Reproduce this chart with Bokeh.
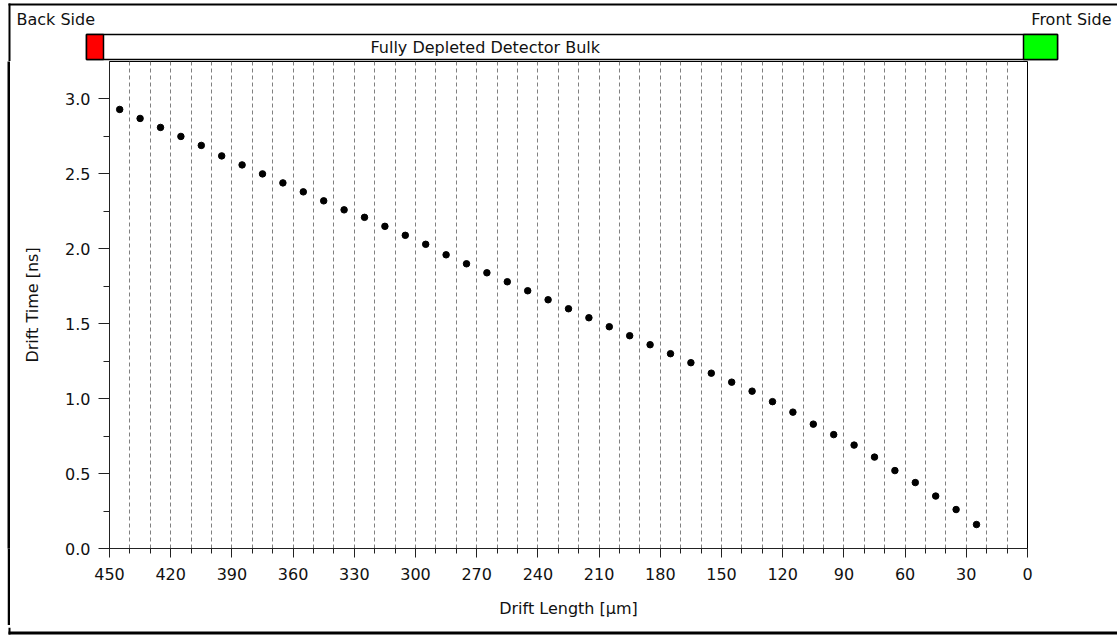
from bokeh.plotting import figure
from bokeh.layouts import column, row
from bokeh.models import Range1d, FixedTicker, ColumnDataSource
from bokeh.core.properties import value
from bokeh.embed import file_html
from bokeh.resources import INLINE

# ---- data ----
drift_length = [445, 435, 425, 415, 405, 395, 385, 375, 365, 355, 345, 335, 325, 315, 305,
                295, 285, 275, 265, 255, 245, 235, 225, 215, 205, 195, 185, 175, 165, 155,
                145, 135, 125, 115, 105, 95, 85, 75, 65, 55, 45, 35, 25]
drift_time = [2.93, 2.87, 2.81, 2.75, 2.69, 2.62, 2.56, 2.50, 2.44, 2.38, 2.32, 2.26, 2.21, 2.15, 2.09,
              2.03, 1.96, 1.90, 1.84, 1.78, 1.72, 1.66, 1.60, 1.54, 1.48, 1.42, 1.36, 1.30, 1.24, 1.17,
              1.11, 1.05, 0.98, 0.91, 0.83, 0.76, 0.69, 0.61, 0.52, 0.44, 0.35, 0.26, 0.16]

x_major_ticks = [450, 420, 390, 360, 330, 300, 270, 240, 210, 180, 150, 120, 90, 60, 30, 0]
x_minor_ticks = [440, 430, 410, 400, 380, 370, 350, 340, 320, 310, 290, 280, 260, 250, 230, 220,
                 200, 190, 170, 160, 140, 130, 110, 100, 80, 70, 50, 40, 20, 10]
x_grid_ticks = [440, 430, 420, 410, 400, 390, 380, 370, 360, 350, 340, 330, 320, 310, 300, 290,
                280, 270, 260, 250, 240, 230, 220, 210, 200, 190, 180, 170, 160, 150, 140, 130,
                120, 110, 100, 90, 80, 70, 60, 50, 40, 30, 20, 10]
y_major_ticks = [0.0, 0.5, 1.0, 1.5, 2.0, 2.5, 3.0]
y_tick_labels = ["0.0", "0.5", "1.0", "1.5", "2.0", "2.5", "3.0"]
y_minor_ticks = [0.25, 0.75, 1.25, 1.75, 2.25, 2.75]

x_title = "Drift Length [\u00b5m]"
y_title = "Drift Time [ns]"
bar_title = "Fully Depleted Detector Bulk"
left_label = "Back Side"
right_label = "Front Side"

FONT = "DejaVu Sans"
TXT = "#111111"

W, H = 1117, 635
HEADER_H = 61
BOTTOM_H = 10
PAD_W = 7
LINE_W = 3
MID_H = H - HEADER_H - BOTTOM_H


def blank(w, h, color="white"):
    f = figure(width=w, height=h, output_backend="svg", toolbar_location=None,
               x_range=Range1d(0, w), y_range=Range1d(h, 0), min_border=0,
               x_axis_type=None, y_axis_type=None,
               background_fill_color=color, border_fill_color=color)
    f.grid.visible = False
    f.outline_line_color = None
    return f


# ---- header (side labels and detector bar) ----
hdr = blank(W, HEADER_H)
hdr.quad(left=[8, 8], right=[W, 10], top=[3, 3], bottom=[5, HEADER_H],
         fill_color="black", line_color=None)
hdr.quad(left=[86], right=[1057], top=[34], bottom=[59],
         fill_color="white", line_color="black", line_width=1.5)
hdr.quad(left=[86, 1023], right=[103, 1057], top=[34, 34], bottom=[59, 59],
         fill_color=["#ff0000", "#00ff00"], line_color="black", line_width=1.5)
hdr.text(x=[16], y=[19], text=[left_label], text_font=value(FONT), text_font_size="16px",
         text_color=TXT, text_baseline="middle", text_align="left")
hdr.text(x=[1111], y=[19], text=[right_label], text_font=value(FONT), text_font_size="16px",
         text_color=TXT, text_baseline="middle", text_align="right")
hdr.text(x=[370], y=[47], text=[bar_title], text_font=value(FONT), text_font_size="16px",
         text_color=TXT, text_baseline="middle", text_align="left")

# ---- left border: white pad + black line ----
pad = blank(PAD_W, MID_H, "white")
edge = blank(LINE_W, MID_H, "black")

# ---- bottom strip: left border continues, bottom border line ----
bot = blank(W, BOTTOM_H, "white")
bot.quad(left=[8, 8], right=[10, W], top=[0, 4], bottom=[7, 7],
         fill_color="black", line_color=None)

# ---- main chart ----
p = figure(width=W - PAD_W - LINE_W, height=MID_H, output_backend="svg", toolbar_location=None,
           x_range=Range1d(450, 0), y_range=Range1d(0, 3.25),
           min_border_left=109 - PAD_W - LINE_W, min_border_right=90, min_border_top=0,
           min_border_bottom=MID_H - 487,
           background_fill_color="white", border_fill_color="white")

p.outline_line_color = "black"
p.outline_line_width = 1

src = ColumnDataSource(dict(x=drift_length, y=drift_time))
p.scatter("x", "y", source=src, size=6.5, color="black")

xa = p.xaxis[0]
xa.ticker = FixedTicker(ticks=x_major_ticks, minor_ticks=x_minor_ticks)
xa.axis_label = x_title
ya = p.yaxis[0]
ya.ticker = FixedTicker(ticks=y_major_ticks, minor_ticks=y_minor_ticks)
ya.major_label_overrides = {t: s for t, s in zip(y_major_ticks, y_tick_labels)}
ya.axis_label = y_title

for ax in (xa, ya):
    ax.axis_line_color = "#222222"
    ax.major_tick_line_color = "#222222"
    ax.minor_tick_line_color = "#222222"
    ax.major_tick_in = 0
    ax.minor_tick_in = 0
    ax.major_label_text_font = FONT
    ax.major_label_text_font_size = "16px"
    ax.major_label_text_color = TXT
    ax.axis_label_text_font = FONT
    ax.axis_label_text_font_size = "16px"
    ax.axis_label_text_font_style = "normal"
    ax.axis_label_text_color = TXT

xa.major_tick_out = 9
xa.minor_tick_out = 5
xa.major_label_standoff = 10
xa.axis_label_standoff = 16
ya.major_tick_out = 11
ya.minor_tick_out = 6
ya.major_label_standoff = 8
ya.axis_label_standoff = 20

p.xgrid.ticker = FixedTicker(ticks=x_grid_ticks)
p.xgrid.grid_line_color = "#808080"
p.xgrid.grid_line_dash = "4 3"
p.xgrid.grid_line_width = 1
p.ygrid.visible = False

layout = column(hdr, row(pad, edge, p, spacing=0), bot, spacing=0)

open("out.html", "w").write(file_html(layout, INLINE))
